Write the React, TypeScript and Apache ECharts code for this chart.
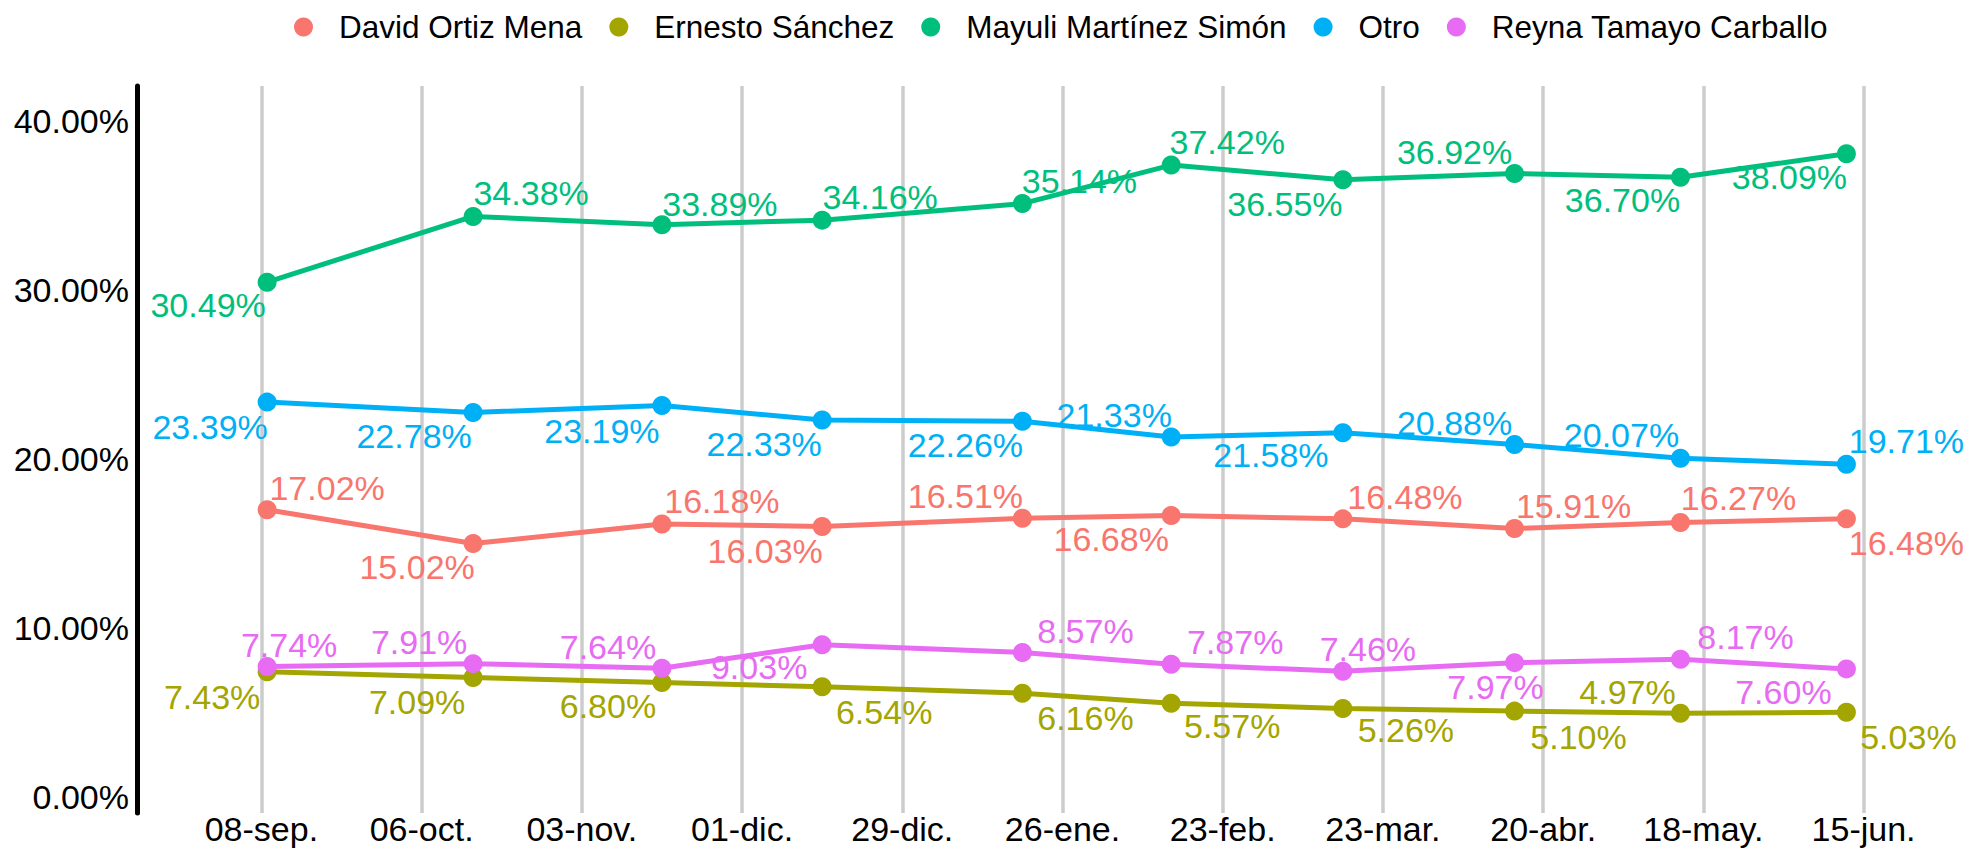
import React, { useEffect, useRef } from "react";
import * as echarts from "echarts";

// ---- data ----
const baseDate = "2025-09-08";
const pollDates = [
  "2025-09-09", "2025-10-15", "2025-11-17", "2025-12-15", "2026-01-19",
  "2026-02-14", "2026-03-16", "2026-04-15", "2026-05-14", "2026-06-12",
];
const tickDates = [
  "2025-09-08", "2025-10-06", "2025-11-03", "2025-12-01", "2025-12-29", "2026-01-26",
  "2026-02-23", "2026-03-23", "2026-04-20", "2026-05-18", "2026-06-15",
];
const tickLabels = [
  "08-sep.", "06-oct.", "03-nov.", "01-dic.", "29-dic.", "26-ene.",
  "23-feb.", "23-mar.", "20-abr.", "18-may.", "15-jun.",
];
const candidates = [
  "David Ortiz Mena", "Ernesto Sánchez", "Mayuli Martínez Simón", "Otro", "Reyna Tamayo Carballo",
];
const davidOrtiz = [17.02, 15.02, 16.18, 16.03, 16.51, 16.68, 16.48, 15.91, 16.27, 16.48];
const ernestoSanchez = [7.43, 7.09, 6.8, 6.54, 6.16, 5.57, 5.26, 5.1, 4.97, 5.03];
const mayuliMartinez = [30.49, 34.38, 33.89, 34.16, 35.14, 37.42, 36.55, 36.92, 36.7, 38.09];
const otro = [23.39, 22.78, 23.19, 22.33, 22.26, 21.33, 21.58, 20.88, 20.07, 19.71];
const reynaTamayo = [7.74, 7.91, 7.64, 9.03, 8.57, 7.87, 7.46, 7.97, 8.17, 7.6];
const yTicks = [0, 10, 20, 30, 40];

// ---- label placement (layout only, px offsets from each point) ----
const davidOffsets = [[60, -22], [-56, 23], [60, -23], [-57, 25], [-57, -22], [-60, 24], [62, -22], [59, -22], [58, -24], [60, 24]];
const ernestoOffsets = [[-55, 25], [-56, 24], [-54, 24], [62, 25], [63, 25], [61, 23], [63, 22], [64, 26], [-53, -21], [62, 25]];
const mayuliOffsets = [[-59, 23], [58, -23], [58, -21], [58, -23], [57, -23], [56, -23], [-58, 24], [-60, -22], [-58, 23], [-57, 23]];
const otroOffsets = [[-57, 25], [-59, 24], [-60, 26], [-58, 24], [-57, 24], [-57, -22], [-72, 22], [-60, -22], [-59, -23], [60, -23]];
const reynaOffsets = [[22, -22], [-54, -22], [-54, -21], [-63, 22], [63, -21], [64, -22], [25, -22], [-19, 24], [65, -22], [-63, 23]];

const colors = ["#F8766D", "#A3A500", "#00BF7D", "#00B0F6", "#E76BF3"];
const FONT = "'Liberation Sans', Arial, Helvetica, sans-serif";

const dayOf = (d: string) =>
  Math.round((Date.parse(d + "T00:00:00Z") - Date.parse(baseDate + "T00:00:00Z")) / 86400000);

export default function App() {
  const ref = useRef<HTMLDivElement>(null);

  useEffect(() => {
    document.body.style.margin = "0";
    if (!ref.current) return;
    const chart = echarts.init(ref.current, null, { renderer: "svg" });

    const pollDays = pollDates.map(dayOf);
    const tickDays = tickDates.map(dayOf);
    const allValues = [davidOrtiz, ernestoSanchez, mayuliMartinez, otro, reynaTamayo];
    const allOffsets = [davidOffsets, ernestoOffsets, mayuliOffsets, otroOffsets, reynaOffsets];

    const series = candidates.map((name, s) => ({
      name,
      type: "line",
      clip: false,
      symbol: "circle",
      symbolSize: 19,
      lineStyle: { width: 5, color: colors[s] },
      itemStyle: { color: colors[s] },
      label: {
        show: true,
        position: "inside",
        align: "center",
        verticalAlign: "middle",
        color: colors[s],
        fontSize: 34,
        fontFamily: FONT,
        formatter: (p: any) => p.value[1].toFixed(2) + "%",
      },
      emphasis: { disabled: true },
      data: allValues[s].map((v, i) => ({
        value: [pollDays[i], v],
        label: { offset: allOffsets[s][i] },
      })),
    }));

    chart.setOption({
      animation: false,
      color: colors,
      textStyle: { fontFamily: FONT },
      legend: {
        data: candidates,
        icon: "circle",
        itemWidth: 19,
        itemHeight: 19,
        itemGap: 27,
        left: 294,
        top: 11,
        padding: 0,
        textStyle: { fontSize: 31.5, color: "#000", fontFamily: FONT, padding: [0, 0, 0, 21] },
      },
      grid: { left: 137, right: 7, top: 86, bottom: 35, outerBoundsMode: "none" },
      xAxis: {
        type: "value",
        min: -21.74,
        max: 296.85,
        axisLine: { show: false, onZero: false },
        axisTick: { show: false, customValues: tickDays },
        axisLabel: {
          customValues: tickDays,
          fontSize: 34,
          lineHeight: 28,
          color: "#000",
          fontFamily: FONT,
          margin: 2,
          formatter: (v: number) => {
            const i = tickDays.indexOf(Math.round(v));
            return i >= 0 ? tickLabels[i] : "";
          },
        },
        splitLine: { show: true, lineStyle: { color: "#cccccc", width: 3.5 } },
      },
      yAxis: {
        type: "value",
        min: -0.93,
        max: 42.1,
        axisLine: { show: true, onZero: false, lineStyle: { color: "#000", width: 5 } },
        axisTick: { show: false },
        axisLabel: {
          customValues: yTicks,
          fontSize: 34,
          color: "#000",
          fontFamily: FONT,
          margin: 8,
          formatter: (v: number) => v.toFixed(2) + "%",
        },
        splitLine: { show: false },
      },
      series,
    });

    return () => chart.dispose();
  }, []);

  return <div ref={ref} style={{ width: 1967, height: 848 }} />;
}
